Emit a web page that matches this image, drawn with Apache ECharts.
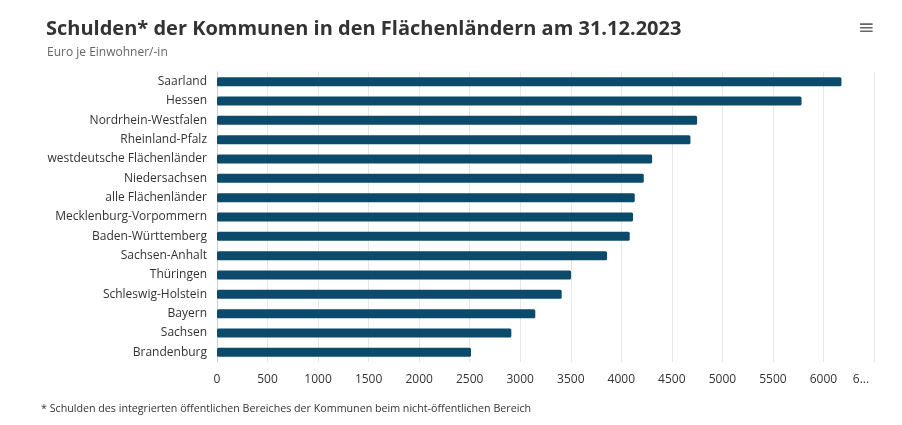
<!DOCTYPE html>
<html>
<head>
<meta charset="utf-8">
<script src="https://cdn.jsdelivr.net/npm/echarts@6/dist/echarts.min.js"></script>
<style>html,body{margin:0;padding:0;background:#fff;}#c{width:902px;height:425px;}</style>
</head>
<body>
<div id="c"></div>
<script>
const categories = ['Saarland','Hessen','Nordrhein-Westfalen','Rheinland-Pfalz','westdeutsche Flächenländer','Niedersachsen','alle Flächenländer','Mecklenburg-Vorpommern','Baden-Württemberg','Sachsen-Anhalt','Thüringen','Schleswig-Holstein','Bayern','Sachsen','Brandenburg'];
const values = [6178, 5783, 4750, 4684, 4305, 4222, 4133, 4116, 4083, 3859, 3503, 3410, 3149, 2912, 2513];
const tickLabels = {0:'0',500:'500',1000:'1000',1500:'1500',2000:'2000',2500:'2500',3000:'3000',3500:'3500',4000:'4000',4500:'4500',5000:'5000',5500:'5500',6000:'6000',6500:'6...'};

const chart = echarts.init(document.getElementById('c'));
const FONT = '"Open Sans", sans-serif';
chart.setOption({
  animation: false,
  textStyle: {fontFamily: FONT},
  title: [
    {text: 'Schulden* der Kommunen in den Flächenländern am 31.12.2023', left: 46, top: 19, padding: 0,
     textStyle: {fontFamily: FONT, fontSize: 20, fontWeight: 'bold', color: '#333'}},
    {text: 'Euro je Einwohner/-in', left: 47, top: 47, padding: 0,
     textStyle: {fontFamily: FONT, fontSize: 12, fontWeight: 'normal', color: '#666'}},
    {text: '* Schulden des integrierten öffentlichen Bereiches der Kommunen beim nicht-öffentlichen Bereich', left: 41, top: 403, padding: 0,
     textStyle: {fontFamily: FONT, fontSize: 10.7, fontWeight: 'normal', color: '#333'}}
  ],
  graphic: [{type: 'text', left: 858, top: 19, style: {text: '≡', fontSize: 20, fill: '#666', fontFamily: 'DejaVu Sans'}}],
  grid: {left: 217, right: 28, top: 72, bottom: 63, containLabel: false},
  xAxis: {
    type: 'value', min: 0, max: 6500, interval: 500,
    axisLine: {show: false}, axisTick: {show: false},
    splitLine: {lineStyle: {color: '#e6e6e6', width: 1}},
    axisLabel: {color: '#333', fontSize: 12, margin: 12, fontFamily: FONT,
      formatter: v => v === 6500 ? '{t|' + tickLabels[v] + '}' : (tickLabels[v] !== undefined ? tickLabels[v] : String(v)),
      rich: {t: {color: '#333', fontSize: 12, fontFamily: FONT, padding: [0, 26, 0, 0]}}}
  },
  yAxis: {
    type: 'category', data: categories, inverse: true,
    axisLine: {show: true, lineStyle: {color: '#ccc'}},
    axisTick: {show: false},
    axisLabel: {color: '#333', fontSize: 12, margin: 10, fontFamily: FONT}
  },
  series: [{
    type: 'bar', data: values, barWidth: 9,
    itemStyle: {color: '#0b4a6a', borderRadius: 1.5}
  }]
});
</script>
</body>
</html>
